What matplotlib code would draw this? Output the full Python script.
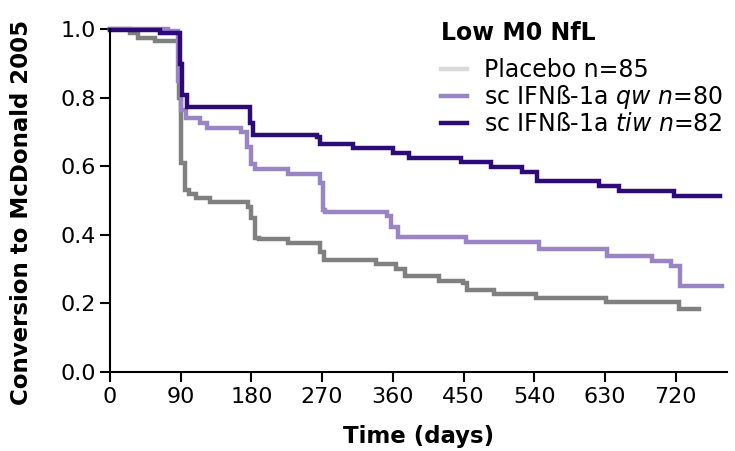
import numpy as np
import matplotlib
matplotlib.use("Agg")
import matplotlib.pyplot as plt

# Kaplan-Meier step data (days, proportion)
placebo_t = [0, 25, 36, 57, 88, 90, 95, 101, 110, 127, 176, 180, 184, 190, 226, 267, 273,
             339, 364, 375, 419, 449, 455, 489, 542, 631, 724, 750]
placebo_s = [1.0, 0.99, 0.975, 0.965, 0.80, 0.61, 0.53, 0.52, 0.507, 0.495, 0.48, 0.45, 0.39,
             0.386, 0.376, 0.35, 0.326, 0.314, 0.30, 0.278, 0.265, 0.258, 0.239, 0.226, 0.214,
             0.203, 0.182, 0.182]

qw_t = [0, 74, 87, 90, 97, 114, 123, 167, 174, 180, 184, 226, 267, 271, 274, 352, 358, 366,
        453, 546, 633, 690, 714, 726, 779]
qw_s = [1.0, 0.995, 0.85, 0.764, 0.74, 0.726, 0.711, 0.70, 0.657, 0.608, 0.591, 0.577, 0.55,
        0.472, 0.466, 0.455, 0.423, 0.394, 0.38, 0.357, 0.338, 0.323, 0.31, 0.25, 0.25]

tiw_t = [0, 64, 89, 92, 98, 178, 182, 263, 267, 309, 360, 381, 447, 485, 525, 544, 623, 648,
         718, 777]
tiw_s = [0.997, 0.988, 0.90, 0.808, 0.774, 0.725, 0.691, 0.685, 0.665, 0.652, 0.64, 0.625,
         0.612, 0.599, 0.584, 0.557, 0.542, 0.529, 0.513, 0.513]

labels = ["Placebo n=85",
          r"sc IFNß-1a $\it{qw}$ $\it{n}$=80",
          r"sc IFNß-1a $\it{tiw}$ $\it{n}$=82"]
colors = ["#808080", "#9b84c4", "#2d0a78"]
legend_colors = ["#d9d9d9", "#9b84c4", "#2d0a78"]
xticks = [0, 90, 180, 270, 360, 450, 540, 630, 720]
yticks = [0.0, 0.2, 0.4, 0.6, 0.8, 1.0]

plt.rcParams['font.family'] = ['DejaVu Sans']
fig = plt.figure(figsize=(7.35, 4.51), dpi=100)
ax = fig.add_axes([0.1497, 0.176, 0.84, 0.759])

for t, s, c in zip([placebo_t, qw_t, tiw_t], [placebo_s, qw_s, tiw_s], colors):
    ax.step(t, s, where='post', color=c, lw=3.2, clip_on=False, solid_joinstyle='miter')

ax.set_xlim(0, 786)
ax.set_ylim(0, 1.0)
ax.set_xticks(xticks)
ax.set_yticks(yticks)
ax.set_xticklabels([str(v) for v in xticks], fontsize=16)
ax.set_yticklabels([f"{v:.1f}" for v in yticks], fontsize=16)
for sp in ['top', 'right']:
    ax.spines[sp].set_visible(False)
for sp in ['left', 'bottom']:
    ax.spines[sp].set_linewidth(1.5)
ax.tick_params(direction='out', length=7, width=1.5)
ax.tick_params(axis='x', pad=4)
ax.tick_params(axis='y', pad=3)

ax.set_xlabel("Time (days)", fontsize=16.5, fontweight='bold')
ax.set_ylabel("Conversion to McDonald 2005", fontsize=16.5, fontweight='bold')
ax.xaxis.set_label_coords(0.5, -0.155)
ax.yaxis.set_label_coords(-0.125, 0.466)

fig.text(441 / 735, 1 - 21 / 451, "Low M0 NfL", fontsize=17, fontweight='bold',
         ha='left', va='top')
handles = [plt.Line2D([], [], color=c, lw=3.2) for c in legend_colors]
leg = fig.legend(handles, labels, loc='upper left', bbox_to_anchor=(441 / 735, 1 - 58 / 451),
                 frameon=False, fontsize=17, handlelength=1.1, handletextpad=0.7,
                 labelspacing=0.05, borderaxespad=0, borderpad=0)

fig.savefig("out.png", dpi=100)
